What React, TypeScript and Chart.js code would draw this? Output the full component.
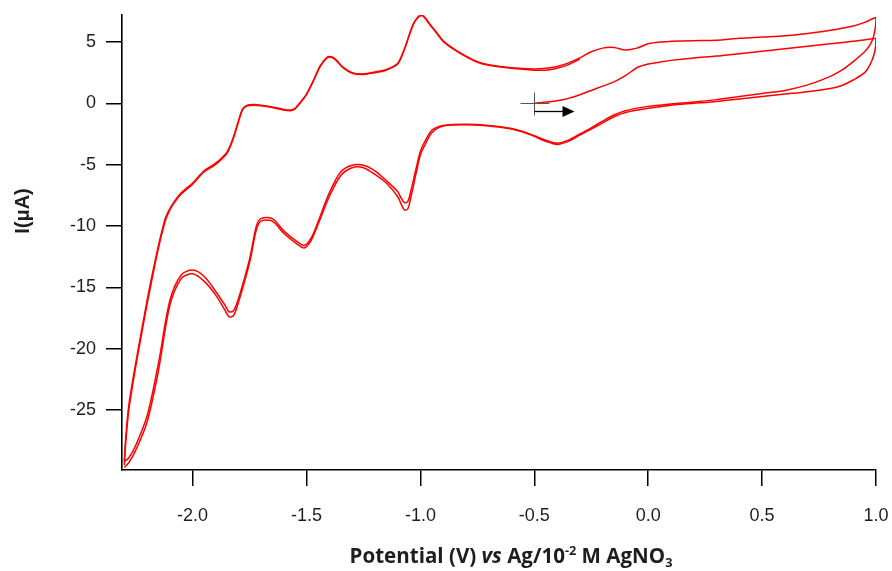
import { useEffect, useRef } from "react";
import { Chart, registerables } from "chart.js";

Chart.register(...registerables);

// ---- Data (potential in V vs Ag/AgNO3, current in µA) ----
const initialV = [-0.5, -0.45, -0.4, -0.35, -0.3, -0.25, -0.2, -0.15, -0.1, -0.05, 0.0, 0.05, 0.1, 0.2, 0.3, 0.4, 0.5, 0.6, 0.7, 0.8, 0.9, 1.0];
const initialI = [0.0, 0.1, 0.2, 0.4, 0.7, 1.05, 1.4, 1.75, 2.25, 2.9, 3.2, 3.35, 3.5, 3.7, 3.85, 4.05, 4.25, 4.45, 4.65, 4.85, 5.05, 5.3];

const reverseV = [1.0, 0.998, 0.99, 0.975, 0.95, 0.9, 0.85, 0.8, 0.7, 0.6, 0.5, 0.4, 0.3, 0.2, 0.1, 0.0, -0.1, -0.15, -0.2, -0.25, -0.3, -0.35, -0.4, -0.45, -0.5, -0.55, -0.6, -0.7, -0.8, -0.9, -0.95, -0.98, -1.0, -1.02, -1.04, -1.055, -1.07, -1.085, -1.1, -1.15, -1.2, -1.25, -1.3, -1.35, -1.4, -1.45, -1.48, -1.51, -1.54, -1.6, -1.65, -1.7, -1.72, -1.75, -1.8, -1.82, -1.84, -1.86, -1.9, -1.95, -2.0, -2.05, -2.1, -2.15, -2.2, -2.25, -2.28, -2.3];
const reverse1I = [
  5.3, 4.6, 3.9, 3.2, 2.5, 1.9, 1.45, 1.2, 0.95, 0.75,
  0.55, 0.35, 0.15, 0.0, -0.15, -0.4, -0.75, -1.1, -1.6, -2.1,
  -2.6, -3.1, -3.35, -3.1, -2.7, -2.35, -2.1, -1.85, -1.75, -1.85,
  -2.4, -3.4, -4.2, -5.8, -7.5, -8.6, -8.7, -8.2, -7.6, -6.5,
  -5.8, -5.25, -5.25, -5.9, -7.6, -9.9, -11.2, -11.8, -11.5, -10.6,
  -9.6, -9.6, -10.3, -13.0, -16.3, -17.3, -17.4, -16.8, -15.6, -14.5,
  -13.9, -14.3, -16.5, -21.8, -26.0, -28.3, -29.3, -29.7,
];
const reverse2I = [
  7.0, 6.3, 5.5, 4.8, 4.2, 3.4, 2.7, 2.2, 1.5, 1.05,
  0.8, 0.55, 0.3, 0.1, -0.05, -0.25, -0.6, -0.95, -1.45, -2.0,
  -2.5, -3.0, -3.25, -3.0, -2.65, -2.3, -2.05, -1.8, -1.7, -1.8,
  -2.2, -3.1, -3.9, -5.4, -7.0, -8.0, -8.1, -7.7, -7.2, -6.3,
  -5.5, -5.05, -5.05, -5.6, -7.3, -9.7, -11.0, -11.6, -11.3, -10.4,
  -9.4, -9.4, -10.0, -12.7, -16.0, -16.9, -17.0, -16.4, -15.3, -14.1,
  -13.6, -14.0, -16.1, -21.2, -25.5, -27.9, -28.9, -29.2,
];

const forwardV = [-2.3, -2.295, -2.28, -2.25, -2.22, -2.2, -2.18, -2.15, -2.12, -2.1, -2.08, -2.05, -2.0, -1.95, -1.9, -1.85, -1.82, -1.8, -1.78, -1.76, -1.73, -1.7, -1.65, -1.6, -1.57, -1.55, -1.52, -1.5, -1.47, -1.44, -1.41, -1.39, -1.37, -1.34, -1.3, -1.25, -1.2, -1.15, -1.1, -1.07, -1.05, -1.03, -1.01, -0.995, -0.98, -0.96, -0.93, -0.9, -0.85, -0.8, -0.75, -0.7, -0.6, -0.5, -0.45, -0.4, -0.35, -0.3, -0.25, -0.2, -0.15, -0.1, -0.05, 0.0, 0.05, 0.1, 0.2, 0.3, 0.4, 0.5, 0.6, 0.7, 0.8, 0.9, 0.95, 0.98, 1.0];
const forward1I = [
  -29.5, -28.0, -25.0, -21.5, -18.4, -16.4, -14.5, -11.8, -9.6, -8.7,
  -8.1, -7.4, -6.6, -5.6, -5.0, -4.1, -2.8, -1.6, -0.5, -0.2,
  -0.15, -0.2, -0.35, -0.55, -0.6, -0.45, 0.2, 0.7, 1.8, 3.0,
  3.7, 3.75, 3.5, 2.9, 2.45, 2.35, 2.5, 2.7, 3.2, 4.4,
  5.5, 6.5, 7.05, 7.2, 7.0, 6.5, 5.8, 5.1, 4.4, 3.85,
  3.4, 3.15, 2.9, 2.8, 2.85, 3.0, 3.3, 3.7, 4.2, 4.5,
  4.55, 4.35, 4.5, 4.85, 5.0, 5.05, 5.1, 5.15, 5.3, 5.4,
  5.5, 5.7, 5.95, 6.3, 6.6, 6.85, 7.0,
];
const forward2I = [
  -29.2, -27.6, -24.6, -21.2, -18.1, -16.1, -14.2, -11.6, -9.4, -8.6,
  -8.0, -7.3, -6.5, -5.5, -4.9, -4.0, -2.7, -1.5, -0.45, -0.15,
  -0.1, -0.15, -0.3, -0.5, -0.55, -0.4, 0.25, 0.75, 1.85, 3.05,
  3.75, 3.8, 3.55, 2.95, 2.5, 2.4, 2.55, 2.75, 3.25, 4.45,
  5.5, 6.5, 7.0, 7.15, 6.95, 6.45, 5.75, 5.05, 4.35, 3.8,
  3.35, 3.1, 2.85, 2.7, 2.7, 2.85, 3.15, 3.6,
];

const xTickValues = [-2.0, -1.5, -1.0, -0.5, 0.0, 0.5, 1.0];
const yTickValues = [-25, -20, -15, -10, -5, 0, 5];
const xMin = -2.31;
const xMax = 1.0;
const yMin = -29.9;
const yMax = 7.2;
const startPoint = { x: -0.5, y: 0 };

const yTitle = "I(μA)";
const xTitleParts = [
  { text: "Potential (V) ", kind: "normal" },
  { text: "vs", kind: "italic" },
  { text: " Ag/10", kind: "normal" },
  { text: "-2", kind: "sup" },
  { text: " M AgNO", kind: "normal" },
  { text: "3", kind: "sub" },
];

const LINE_COLOR = "#ff0000";
const TEXT_COLOR = "#1e1e1e";
const TICK_FONT = '"Liberation Sans", Arial, sans-serif';
const TITLE_FONT = '"Open Sans", "Noto Sans", sans-serif';

function pts(v: number[], i: number[]) {
  return i.map((y, k) => ({ x: v[k], y }));
}

const decorPlugin = {
  id: "decor",
  afterDraw(chart: any) {
    const ctx = chart.ctx as CanvasRenderingContext2D;
    const xs = chart.scales.x;
    const ys = chart.scales.y;
    const area = chart.chartArea;
    ctx.save();

    // start marker: cross + arrow
    const px = Math.round(xs.getPixelForValue(startPoint.x)) + 0.5;
    const py = Math.round(ys.getPixelForValue(startPoint.y)) + 0.5;
    ctx.strokeStyle = "#555";
    ctx.lineWidth = 1;
    ctx.beginPath();
    ctx.moveTo(px - 14, py);
    ctx.lineTo(px + 15, py);
    ctx.moveTo(px, py - 11);
    ctx.lineTo(px, py + 12);
    ctx.stroke();
    ctx.strokeStyle = "#000";
    ctx.fillStyle = "#000";
    ctx.lineWidth = 1.3;
    ctx.beginPath();
    ctx.moveTo(px, py + 8);
    ctx.lineTo(px + 29, py + 8);
    ctx.stroke();
    ctx.beginPath();
    ctx.moveTo(px + 28, py + 2.5);
    ctx.lineTo(px + 40, py + 8);
    ctx.lineTo(px + 28, py + 13.5);
    ctx.closePath();
    ctx.fill();

    // y title
    ctx.fillStyle = TEXT_COLOR;
    ctx.font = `bold 20px ${TICK_FONT}`;
    ctx.textAlign = "center";
    ctx.textBaseline = "middle";
    ctx.translate(23, area.top + 196);
    ctx.rotate(-Math.PI / 2);
    ctx.fillText(yTitle, 0, 0);
    ctx.setTransform(1, 0, 0, 1, 0, 0);

    // x title with rich text
    const base = 17;
    const fontFor = (kind: string, size: number) =>
      `${kind === "italic" ? "italic " : ""}bold ${kind === "sup" || kind === "sub" ? size * 0.62 : size}px ${TITLE_FONT}`;
    const measure = (size: number) => {
      let w = 0;
      for (const p of xTitleParts) {
        ctx.font = fontFor(p.kind, size);
        w += ctx.measureText(p.text).width;
      }
      return w;
    };
    const targetW = 323;
    const size = base * targetW / measure(base);
    const total = measure(size);
    let x = (area.left + area.right) / 2 + 12 - total / 2;
    const baseline = 563;
    ctx.textAlign = "left";
    ctx.textBaseline = "alphabetic";
    for (const p of xTitleParts) {
      ctx.font = fontFor(p.kind, size);
      let y = baseline;
      if (p.kind === "sup") y = baseline - size * 0.4;
      if (p.kind === "sub") y = baseline + size * 0.2;
      ctx.fillText(p.text, x, y);
      x += ctx.measureText(p.text).width;
    }
    ctx.restore();
  },
};

export default function App() {
  const ref = useRef<HTMLCanvasElement | null>(null);

  useEffect(() => {
    if (!ref.current) return;
    const line = (data: { x: number; y: number }[]) => ({
      data,
      showLine: true,
      borderColor: LINE_COLOR,
      backgroundColor: LINE_COLOR,
      borderWidth: 1.5,
      pointRadius: 0,
      tension: 0.3,
      fill: false,
    });
    const chart = new Chart(ref.current, {
      type: "scatter",
      data: {
        datasets: [
          line(pts(initialV, initialI)),
          line(pts(reverseV, reverse1I)),
          line(pts(forwardV, forward1I)),
          line(pts(reverseV, reverse2I)),
          line(pts(forwardV, forward2I)),
        ],
      },
      options: {
        animation: false,
        responsive: false,
        devicePixelRatio: 1,
        layout: { padding: { top: 15, right: 16, left: 0, bottom: 0 } },
        plugins: { legend: { display: false }, tooltip: { enabled: false } },
        events: [],
        scales: {
          x: {
            type: "linear",
            min: xMin,
            max: xMax,
            afterBuildTicks: (s: any) => {
              s.ticks = xTickValues.map((value) => ({ value }));
            },
            afterFit: (s: any) => {
              s.height = 101;
              s.paddingLeft = 0;
              s.paddingRight = 0;
            },
            ticks: {
              callback: (v: any) => Number(v).toFixed(1),
              font: { family: TICK_FONT, size: 18 },
              color: TEXT_COLOR,
              padding: 19,
              maxRotation: 0,
              autoSkip: false,
            },
            grid: { drawOnChartArea: false, drawTicks: true, tickLength: 16, color: "#000", lineWidth: 1.5 },
            border: { display: true, color: "#000", width: 1.6 },
          },
          y: {
            type: "linear",
            min: yMin,
            max: yMax,
            afterBuildTicks: (s: any) => {
              s.ticks = yTickValues.map((value) => ({ value }));
            },
            afterFit: (s: any) => {
              s.width = 122;
              s.paddingTop = 0;
              s.paddingBottom = 0;
            },
            ticks: {
              callback: (v: any) => String(v),
              font: { family: TICK_FONT, size: 18 },
              color: TEXT_COLOR,
              padding: 10,
              autoSkip: false,
            },
            grid: { drawOnChartArea: false, drawTicks: true, tickLength: 16, color: "#000", lineWidth: 1.5 },
            border: { display: true, color: "#000", width: 1.6 },
          },
        },
      } as any,
      plugins: [decorPlugin],
    });
    return () => chart.destroy();
  }, []);

  return (
    <div style={{ position: "fixed", left: 0, top: 0, width: 892, height: 571, background: "#fff" }}>
      <canvas ref={ref} width={892} height={571} style={{ display: "block", width: 892, height: 571 }} />
    </div>
  );
}
